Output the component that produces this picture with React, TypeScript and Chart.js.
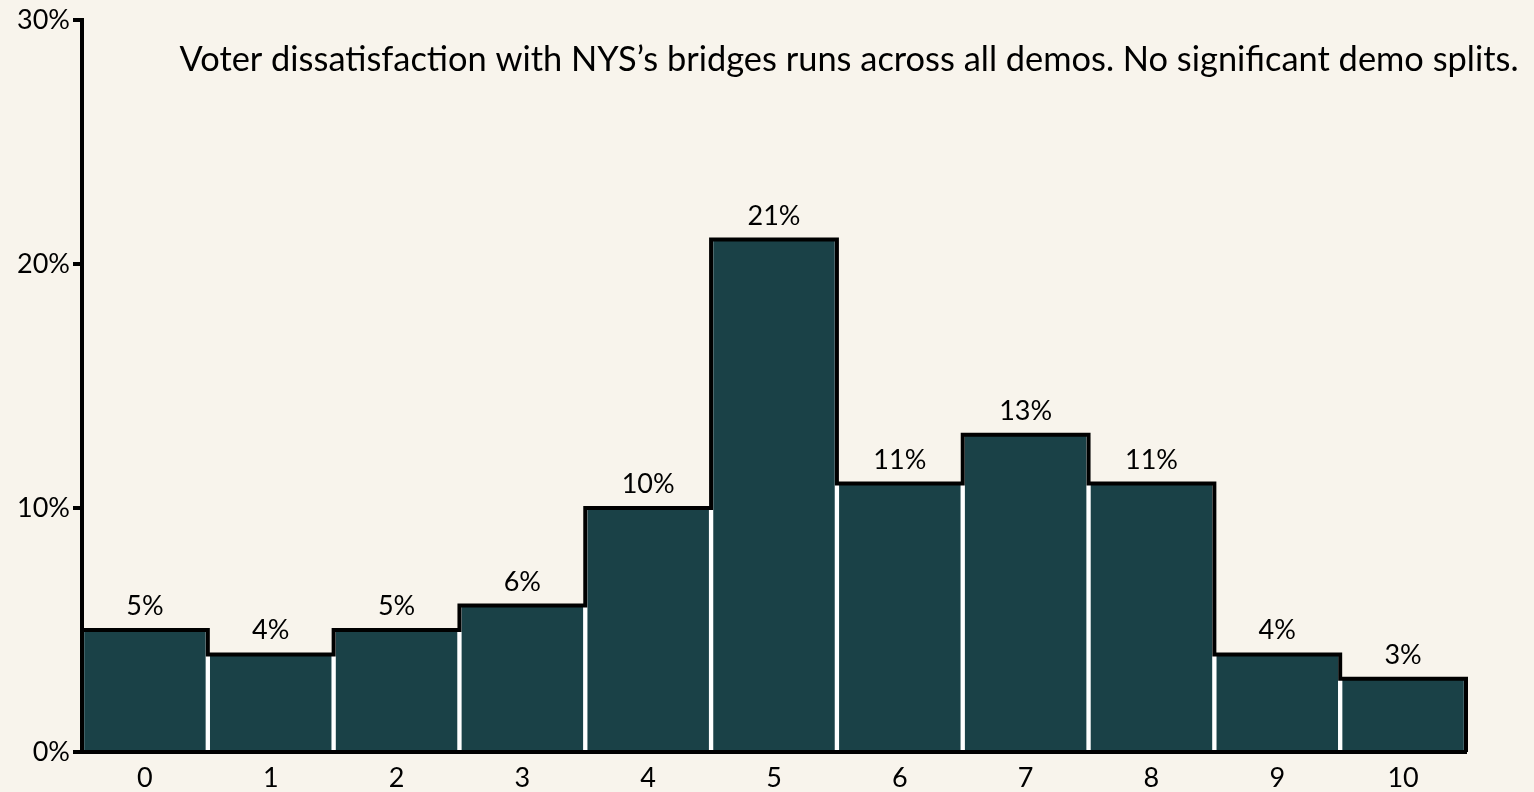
import React, { useEffect, useRef } from "react";
import { Chart, registerables } from "chart.js";

Chart.register(...registerables);

const categories = ["0", "1", "2", "3", "4", "5", "6", "7", "8", "9", "10"];
const values = [5, 4, 5, 6, 10, 21, 11, 13, 11, 4, 3];
const yTickValues = [0, 10, 20, 30];
const titleText =
  "Voter dissatisfaction with NYS\u2019s bridges runs across all demos. No significant demo splits.";

const FONT = "Lato, 'Open Sans', sans-serif";
const BAR_COLOR = "#1a4147";
const BG = "#f8f4ec";

const overlayPlugin = {
  id: "overlay",
  afterDatasetsDraw(chart: any) {
    const { ctx } = chart;
    const xs = chart.scales.x;
    const ys = chart.scales.y;
    const half = (xs.getPixelForValue(1) - xs.getPixelForValue(0)) / 2;
    const n = values.length;
    ctx.save();
    // step outline
    ctx.beginPath();
    ctx.lineWidth = 4;
    ctx.strokeStyle = "#000";
    ctx.lineJoin = "miter";
    const x0 = xs.getPixelForValue(0) - half;
    ctx.moveTo(x0, ys.getPixelForValue(0));
    ctx.lineTo(x0, ys.getPixelForValue(values[0]));
    for (let i = 0; i < n; i++) {
      const xr = xs.getPixelForValue(i) + half;
      ctx.lineTo(xr, ys.getPixelForValue(values[i]));
      if (i < n - 1) ctx.lineTo(xr, ys.getPixelForValue(values[i + 1]));
    }
    ctx.lineTo(xs.getPixelForValue(n - 1) + half, ys.getPixelForValue(0));
    ctx.stroke();
    // value labels
    ctx.fillStyle = "#000";
    ctx.font = `27px ${FONT}`;
    ctx.textAlign = "center";
    ctx.textBaseline = "alphabetic";
    for (let i = 0; i < n; i++) {
      ctx.fillText(
        `${values[i]}%`,
        xs.getPixelForValue(i),
        ys.getPixelForValue(values[i]) - 15
      );
    }
    // title
    ctx.font = `34.4px ${FONT}`;
    ctx.textAlign = "center";
    ctx.fillText(titleText, 849, 71);
    ctx.restore();
  },
};

export default function App() {
  const ref = useRef<HTMLCanvasElement | null>(null);
  useEffect(() => {
    document.body.style.margin = "0";
    document.body.style.background = BG;
    const chart = new Chart(ref.current as HTMLCanvasElement, {
      type: "bar",
      data: {
        labels: categories,
        datasets: [
          {
            data: values,
            backgroundColor: BAR_COLOR,
            borderColor: "#ffffff",
            borderWidth: { left: 2.5, right: 2.5, top: 0, bottom: 0 },
            borderSkipped: false,
            barPercentage: 1,
            categoryPercentage: 1,
          },
        ],
      },
      options: {
        animation: false,
        responsive: false,
        maintainAspectRatio: false,
        layout: { padding: { top: 20, right: 68, left: 0, bottom: 0 } },
        plugins: {
          legend: { display: false },
          tooltip: { enabled: false },
          title: { display: false },
        },
        scales: {
          x: {
            z: 1,
            grid: { display: false, drawTicks: false },
            border: { display: true, color: "#000", width: 4 },
            ticks: {
              color: "#000",
              font: { family: FONT, size: 27 },
              padding: 10,
              maxRotation: 0,
            },
            afterFit(scale: any) {
              scale.height = 40;
            },
          },
          y: {
            z: 1,
            min: 0,
            max: 30,
            afterBuildTicks(scale: any) {
              scale.ticks = yTickValues.map((v) => ({ value: v }));
            },
            grid: {
              display: true,
              drawOnChartArea: false,
              drawTicks: true,
              tickLength: 9,
              color: "#000",
              lineWidth: 4,
            },
            border: { display: true, color: "#000", width: 4 },
            ticks: {
              color: "#000",
              font: { family: FONT, size: 27 },
              padding: 3,
              callback: (v: any) => `${v}%`,
            },
            afterFit(scale: any) {
              scale.width = 82;
            },
          },
        },
      },
      plugins: [overlayPlugin],
    });
    return () => chart.destroy();
  }, []);
  return (
    <div style={{ position: "fixed", left: 0, top: 0, width: 1534, height: 792, background: BG }}>
      <canvas ref={ref} width={1534} height={792} style={{ width: 1534, height: 792 }} />
    </div>
  );
}
